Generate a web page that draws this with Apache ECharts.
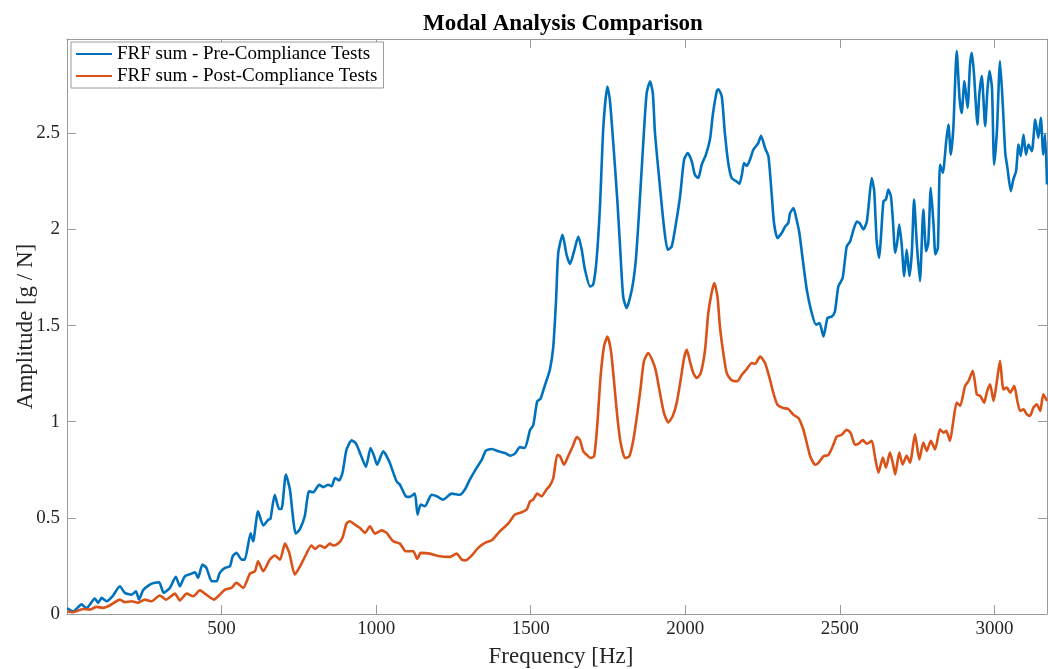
<!DOCTYPE html>
<html>
<head>
<meta charset="utf-8">
<script src="https://cdn.jsdelivr.net/npm/echarts@6/dist/echarts.min.js"></script>
<style>
  html, body { margin: 0; padding: 0; background: #fff; }
  #chart { width: 1048px; height: 669px; }
</style>
</head>
<body>
<div id="chart"></div>
<script>
// ---- Data ----
const titleText = 'Modal Analysis Comparison';
const xAxisTitle = 'Frequency [Hz]';
const yAxisTitle = 'Amplitude [g / N]';
const seriesNames = ['FRF sum - Pre-Compliance Tests', 'FRF sum - Post-Compliance Tests'];

const preFreq = [1,20,47,63,90,101,112,128,149,171,187,209,223,233,246,268,284,298,313,333,352,365,381,403,414,424,438,451,468,484,494,511,527,536,548,565,575,594,602,618,635,651,658,672,686,694,708,721,740,753,769,783,796,816,829,845,856,867,880,891,904,921,935,950,967,982,993,1003,1023,1042,1066,1077,1096,1109,1125,1134,1144,1158,1179,1196,1217,1244,1271,1287,1303,1325,1341,1355,1374,1395,1417,1433,1449,1465,1481,1498,1508,1521,1532,1546,1562,1573,1582,1589,1603,1616,1627,1640,1654,1665,1675,1692,1702,1713,1724,1735,1748,1756,1767,1780,1789,1799,1810,1827,1840,1851,1864,1875,1886,1895,1902,1918,1931,1943,1956,1970,1983,1996,2008,2021,2031,2042,2053,2067,2080,2089,2102,2107,2118,2128,2139,2150,2166,2175,2183,2190,2199,2209,2220,2236,2245,2258,2269,2280,2287,2298,2312,2323,2333,2339,2350,2360,2369,2380,2393,2409,2423,2434,2447,2460,2474,2484,2495,2509,2522,2533,2544,2555,2565,2576,2587,2594,2603,2611,2619,2627,2632,2641,2649,2657,2665,2671,2679,2686,2692,2700,2708,2716,2725,2733,2740,2749,2759,2770,2779,2786,2794,2803,2809,2817,2824,2833,2844,2851,2859,2867,2878,2887,2894,2903,2913,2921,2927,2934,2945,2951,2959,2970,2977,2984,2992,2999,3008,3018,3027,3035,3042,3053,3061,3070,3078,3085,3094,3102,3110,3121,3132,3142,3150,3158,3164,3170];
const preAmp = [0.03,0.014,0.05,0.03,0.08,0.058,0.084,0.066,0.096,0.144,0.11,0.10,0.118,0.075,0.123,0.153,0.162,0.165,0.11,0.136,0.193,0.144,0.196,0.21,0.217,0.188,0.257,0.24,0.17,0.17,0.214,0.24,0.248,0.30,0.318,0.283,0.283,0.42,0.378,0.534,0.46,0.49,0.494,0.62,0.546,0.546,0.725,0.647,0.418,0.44,0.508,0.638,0.633,0.672,0.66,0.672,0.664,0.707,0.695,0.733,0.854,0.903,0.886,0.828,0.765,0.863,0.823,0.776,0.846,0.794,0.69,0.672,0.612,0.609,0.626,0.517,0.569,0.56,0.62,0.612,0.595,0.626,0.62,0.647,0.699,0.76,0.80,0.85,0.858,0.846,0.837,0.823,0.834,0.868,0.863,0.958,0.98,1.106,1.12,1.19,1.27,1.39,1.634,1.877,1.972,1.868,1.82,1.885,1.963,1.894,1.794,1.703,1.712,1.842,2.119,2.535,2.743,2.674,2.449,2.154,1.911,1.651,1.591,1.686,1.842,2.102,2.449,2.708,2.769,2.708,2.50,2.223,2.015,1.894,1.911,2.033,2.171,2.362,2.397,2.353,2.284,2.267,2.336,2.39,2.47,2.596,2.72,2.729,2.691,2.50,2.345,2.267,2.249,2.237,2.284,2.345,2.33,2.362,2.414,2.449,2.487,2.423,2.379,2.171,2.033,1.955,1.981,2.015,2.033,2.085,2.111,2.05,1.981,1.842,1.686,1.565,1.504,1.513,1.443,1.539,1.547,1.573,1.703,1.747,1.911,1.937,1.998,2.041,2.03,2.0,2.04,2.14,2.267,2.2,1.94,1.852,1.939,2.147,2.155,2.207,2.173,2.06,1.878,1.939,2.025,1.921,1.757,1.895,1.757,1.887,2.155,1.921,1.731,2.103,1.887,1.93,2.216,2.025,1.87,1.904,2.337,2.294,2.459,2.545,2.389,2.528,2.927,2.684,2.606,2.771,2.632,2.857,2.918,2.805,2.545,2.701,2.797,2.537,2.719,2.823,2.736,2.337,2.511,2.875,2.649,2.398,2.32,2.199,2.259,2.303,2.441,2.381,2.493,2.389,2.441,2.407,2.571,2.476,2.58,2.389,2.493,2.233];

const postFreq = [1,20,52,74,95,117,138,171,187,209,230,252,273,300,320,349,365,387,408,430,451,475,494,511,532,548,570,592,608,618,635,656,672,689,705,719,737,753,769,791,802,818,834,850,861,877,891,904,915,931,947,964,980,996,1018,1034,1055,1077,1096,1120,1133,1144,1174,1206,1239,1260,1277,1290,1309,1330,1352,1374,1400,1427,1449,1471,1487,1498,1508,1521,1535,1552,1562,1573,1586,1595,1608,1621,1636,1649,1659,1670,1681,1694,1705,1715,1726,1737,1748,1759,1769,1780,1791,1805,1819,1832,1845,1856,1866,1880,1895,1905,1918,1931,1945,1959,1972,1985,1996,2005,2015,2026,2037,2050,2064,2074,2085,2094,2104,2112,2123,2134,2150,2168,2183,2199,2215,2226,2242,2258,2274,2285,2298,2317,2333,2350,2366,2382,2393,2404,2420,2430,2447,2463,2477,2490,2506,2522,2535,2549,2563,2574,2587,2603,2614,2625,2639,2649,2662,2671,2679,2692,2703,2716,2727,2743,2757,2770,2781,2794,2808,2824,2835,2844,2856,2867,2878,2889,2905,2916,2930,2943,2954,2967,2975,2986,2997,3008,3018,3029,3040,3051,3064,3074,3083,3094,3105,3115,3126,3137,3148,3158,3170];
const postAmp = [0.014,0.009,0.026,0.023,0.037,0.032,0.044,0.075,0.061,0.066,0.058,0.075,0.066,0.096,0.075,0.106,0.071,0.106,0.092,0.123,0.10,0.075,0.10,0.127,0.136,0.162,0.136,0.21,0.222,0.274,0.222,0.283,0.304,0.283,0.366,0.318,0.205,0.245,0.296,0.356,0.338,0.356,0.344,0.366,0.356,0.366,0.396,0.47,0.482,0.465,0.448,0.422,0.456,0.418,0.435,0.422,0.378,0.366,0.326,0.326,0.286,0.318,0.314,0.30,0.297,0.314,0.283,0.279,0.304,0.344,0.37,0.383,0.43,0.47,0.517,0.529,0.543,0.586,0.595,0.626,0.612,0.65,0.667,0.707,0.828,0.82,0.776,0.82,0.872,0.92,0.906,0.846,0.828,0.811,0.82,0.976,1.235,1.391,1.443,1.374,1.218,1.028,0.889,0.811,0.82,0.906,1.045,1.183,1.313,1.357,1.313,1.262,1.149,1.045,0.996,1.028,1.097,1.218,1.331,1.374,1.313,1.253,1.227,1.253,1.374,1.56,1.669,1.721,1.651,1.495,1.357,1.253,1.215,1.21,1.244,1.274,1.305,1.301,1.339,1.305,1.218,1.149,1.088,1.071,1.066,1.036,1.019,0.958,0.889,0.82,0.776,0.785,0.82,0.828,0.872,0.923,0.932,0.958,0.941,0.88,0.889,0.905,0.885,0.90,0.813,0.735,0.813,0.761,0.839,0.787,0.726,0.839,0.778,0.822,0.787,0.934,0.804,0.891,0.848,0.90,0.856,0.96,0.943,0.952,0.90,1.004,1.099,1.082,1.186,1.211,1.264,1.142,1.134,1.099,1.151,1.194,1.108,1.211,1.316,1.168,1.177,1.151,1.186,1.108,1.056,1.064,1.038,1.03,1.073,1.09,1.056,1.142,1.108];

const xTicks = [500, 1000, 1500, 2000, 2500, 3000];
const yTicks = [0, 0.5, 1, 1.5, 2, 2.5];

// ---- Chart ----
const FONT = '"Liberation Serif", "Times New Roman", serif';
const zip = (a, b) => a.map((v, i) => [v, b[i]]);
const chart = echarts.init(document.getElementById('chart'), null, { renderer: 'canvas' });

const axisLineStyle = { color: '#9a9a9a', width: 1 };
const xFmt = v => (xTicks.indexOf(v) >= 0 ? String(v) : '');
const yFmt = v => {
  for (const t of yTicks) if (Math.abs(t - v) < 1e-9) return String(t);
  return '';
};

const xBase = {
  type: 'value', min: 0, max: 3170, interval: 500,
  splitLine: { show: false },
  axisLine: { show: true, onZero: false, lineStyle: axisLineStyle },
  axisTick: { show: true, inside: true, length: 9, lineStyle: axisLineStyle }
};
const yBase = {
  type: 'value', min: 0, max: 2.99, interval: 0.5,
  splitLine: { show: false },
  axisLine: { show: true, onZero: false, lineStyle: axisLineStyle },
  axisTick: { show: true, inside: true, length: 9, lineStyle: axisLineStyle }
};

chart.setOption({
  backgroundColor: '#ffffff',
  animation: false,
  title: {
    text: titleText, left: 418, top: 8,
    textStyle: { fontFamily: FONT, fontSize: 23, fontWeight: 'bold', color: '#000' }
  },
  grid: { left: 67, right: 1, top: 39, bottom: 55, containLabel: false, outerBoundsMode: 'none' },
  legend: {
    orient: 'vertical', left: 71, top: 42,
    padding: [2, 6, 2, 5], itemGap: 2,
    itemWidth: 36, itemHeight: 2, icon: 'rect',
    backgroundColor: '#ffffff', borderColor: '#9a9a9a', borderWidth: 1,
    textStyle: { fontFamily: FONT, fontSize: 19, color: '#000', lineHeight: 20 },
    data: seriesNames
  },
  xAxis: [
    Object.assign({}, xBase, {
      position: 'bottom',
      name: xAxisTitle, nameLocation: 'middle', nameGap: 31,
      nameTextStyle: { fontFamily: FONT, fontSize: 23, color: '#262626', padding: [0, 0, 0, 8] },
      axisLabel: { show: true, margin: 6, formatter: xFmt, fontFamily: FONT, fontSize: 19, color: '#262626' }
    }),
    Object.assign({}, xBase, { position: 'top', axisLabel: { show: false } })
  ],
  yAxis: [
    Object.assign({}, yBase, {
      position: 'left',
      name: yAxisTitle, nameLocation: 'middle', nameGap: 30, nameMoveOverlap: false,
      nameTextStyle: { fontFamily: FONT, fontSize: 23, color: '#262626' },
      axisLabel: { show: true, margin: 7, formatter: yFmt, fontFamily: FONT, fontSize: 19, color: '#262626' }
    }),
    Object.assign({}, yBase, { position: 'right', axisLabel: { show: false } })
  ],
  series: [
    {
      name: seriesNames[0], type: 'line', xAxisIndex: 0, yAxisIndex: 0,
      data: zip(preFreq, preAmp), showSymbol: false, symbol: 'none', smooth: 0.2,
      lineStyle: { color: '#0072BD', width: 2.6 }, itemStyle: { color: '#0072BD' }
    },
    {
      name: seriesNames[1], type: 'line', xAxisIndex: 0, yAxisIndex: 0,
      data: zip(postFreq, postAmp), showSymbol: false, symbol: 'none', smooth: 0.2,
      lineStyle: { color: '#D95319', width: 2.6 }, itemStyle: { color: '#D95319' }
    }
  ]
});
</script>
</body>
</html>
